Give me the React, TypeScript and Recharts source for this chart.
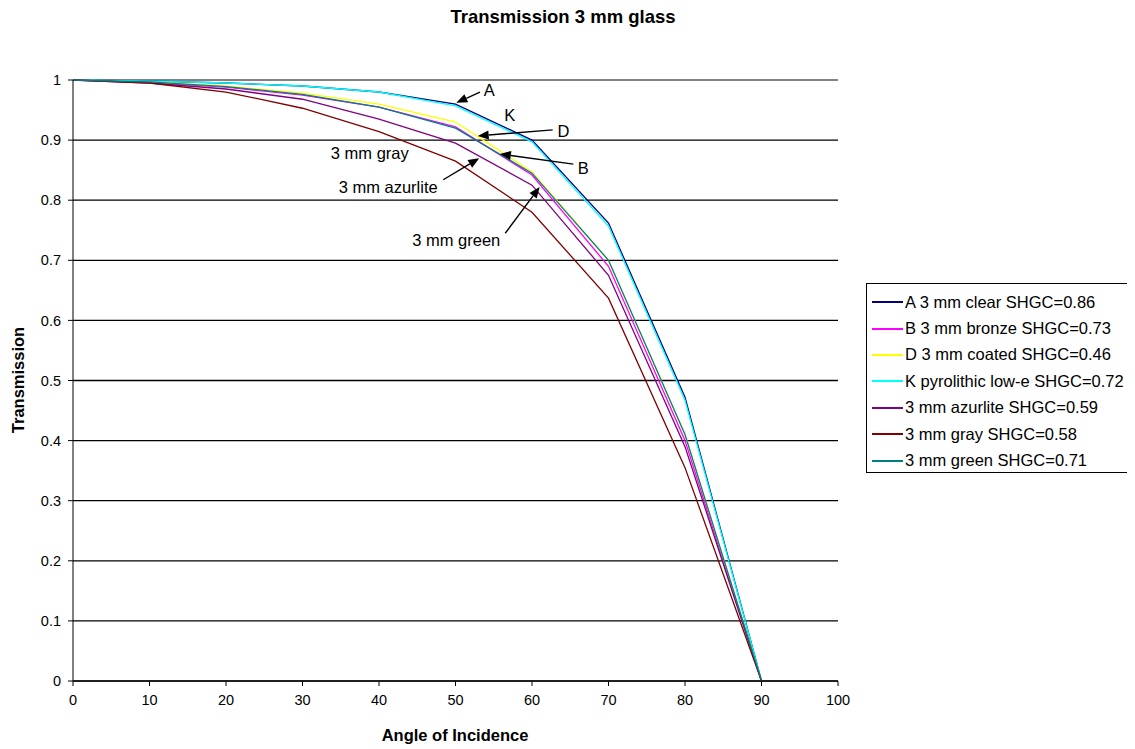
import React from 'react';
import {
  LineChart,
  Line,
  XAxis,
  YAxis,
  CartesianGrid,
  ReferenceLine,
  ReferenceDot,
} from 'recharts';

const angles = [0, 10, 20, 30, 40, 50, 60, 70, 80, 90];
const clearA = [1, 0.998, 0.995, 0.99, 0.98, 0.96, 0.9, 0.762, 0.472, 0];
const bronzeB = [1, 0.996, 0.988, 0.975, 0.955, 0.922, 0.842, 0.69, 0.4, 0];
const coatedD = [1, 0.997, 0.99, 0.978, 0.96, 0.93, 0.847, 0.7, 0.41, 0];
const lowEK = [1, 0.998, 0.995, 0.99, 0.98, 0.957, 0.897, 0.757, 0.467, 0];
const azurlite = [1, 0.995, 0.985, 0.968, 0.935, 0.895, 0.825, 0.675, 0.39, 0];
const gray = [1, 0.995, 0.98, 0.953, 0.914, 0.865, 0.78, 0.637, 0.355, 0];
const green = [1, 0.997, 0.989, 0.976, 0.955, 0.92, 0.845, 0.7, 0.41, 0];

const xTicks = [0, 10, 20, 30, 40, 50, 60, 70, 80, 90, 100];
const yTicks = [0, 0.1, 0.2, 0.3, 0.4, 0.5, 0.6, 0.7, 0.8, 0.9, 1];

const series = [
  { key: 'A', name: 'A 3 mm clear SHGC=0.86', color: '#000080', values: clearA },
  { key: 'B', name: 'B 3 mm bronze SHGC=0.73', color: '#ff00ff', values: bronzeB },
  { key: 'D', name: 'D 3 mm coated SHGC=0.46', color: '#ffff00', values: coatedD },
  { key: 'K', name: 'K pyrolithic low-e SHGC=0.72', color: '#00ffff', values: lowEK },
  { key: 'az', name: '3 mm azurlite SHGC=0.59', color: '#800080', values: azurlite },
  { key: 'gray', name: '3 mm gray SHGC=0.58', color: '#800000', values: gray },
  { key: 'green', name: '3 mm green SHGC=0.71', color: '#008080', values: green },
];

// annotation labels and arrows, in data units (angle, transmission)
const labels = [
  { text: 'A', x: 54.4, y: 0.983 },
  { text: 'K', x: 57.1, y: 0.942 },
  { text: 'D', x: 64.1, y: 0.915 },
  { text: 'B', x: 66.7, y: 0.854 },
  { text: '3 mm gray', x: 38.8, y: 0.879 },
  { text: '3 mm azurlite', x: 41.2, y: 0.822 },
  { text: '3 mm green', x: 50.1, y: 0.734 },
];

const arrows = [
  { from: [53.2, 0.98], to: [50.1, 0.962] },
  { from: [62.7, 0.917], to: [52.9, 0.907] },
  { from: [65.4, 0.86], to: [55.8, 0.877] },
  { from: [48.4, 0.834], to: [53.1, 0.87] },
  { from: [56.5, 0.745], to: [61.0, 0.822] },
];

const data = angles.map((a, i) => {
  const row: Record<string, number> = { angle: a };
  series.forEach(s => {
    row[s.key] = s.values[i];
  });
  return row;
});

const font = '"Liberation Sans", Arial, sans-serif';

const ArrowShape = (props: any) => {
  const { x1, y1, x2, y2 } = props;
  const ang = Math.atan2(y2 - y1, x2 - x1);
  const len = 11;
  const w = 4.5;
  const bx = x2 - len * Math.cos(ang);
  const by = y2 - len * Math.sin(ang);
  const px = -Math.sin(ang) * w;
  const py = Math.cos(ang) * w;
  return (
    <g>
      <line x1={x1} y1={y1} x2={bx} y2={by} stroke="#000" strokeWidth={1.4} />
      <polygon points={`${x2},${y2} ${bx + px},${by + py} ${bx - px},${by - py}`} fill="#000" />
    </g>
  );
};

const LegendBox = () => (
  <div
    style={{
      position: 'absolute',
      left: 858,
      top: 275,
      width: 262,
      height: 190,
      border: '1px solid #000',
      boxSizing: 'border-box',
      background: '#fff',
      paddingTop: 5,
      fontFamily: font,
      fontSize: 16.5,
    }}
  >
    {series.map(s => (
      <div key={s.key} style={{ display: 'flex', alignItems: 'center', height: 26.4 }}>
        <div style={{ width: 31, height: 2, background: s.color, marginLeft: 5, marginRight: 2 }} />
        <span style={{ color: '#000', whiteSpace: 'nowrap' }}>{s.name}</span>
      </div>
    ))}
  </div>
);

export default function App() {
  return (
    <div style={{ position: 'relative', width: 1127, height: 741, fontFamily: font }}>
      <div
        style={{
          position: 'absolute',
          left: 355,
          width: 400,
          top: -1,
          height: 20,
          lineHeight: '20px',
          textAlign: 'center',
          fontWeight: 'bold',
          fontSize: 18.5,
        }}
      >
        Transmission 3 mm glass
      </div>
      <div
        style={{
          position: 'absolute',
          left: 247,
          width: 400,
          top: 717,
          height: 20,
          lineHeight: '20px',
          textAlign: 'center',
          fontWeight: 'bold',
          fontSize: 16.5,
        }}
      >
        Angle of Incidence
      </div>
      <div
        style={{
          position: 'absolute',
          left: -90,
          width: 200,
          top: 362,
          height: 20,
          lineHeight: '20px',
          textAlign: 'center',
          fontWeight: 'bold',
          fontSize: 16.5,
          transform: 'rotate(-90deg)',
        }}
      >
        Transmission
      </div>
      <LineChart
        width={1127}
        height={741}
        data={data}
        margin={{ top: 72, right: 297, left: 30, bottom: 38 }}
      >
        <CartesianGrid vertical={false} stroke="#000" strokeWidth={1.3} />
        <XAxis
          dataKey="angle"
          type="number"
          domain={[0, 100]}
          ticks={xTicks}
          height={30}
          tickSize={5}
          tickMargin={9}
          stroke="#000"
          tick={{ fill: '#000', fontSize: 14.5, fontFamily: font }}
        />
        <YAxis
          type="number"
          domain={[0, 1]}
          ticks={yTicks}
          width={35}
          tickSize={5}
          tickMargin={7}
          stroke="#000"
          tickFormatter={(v: number) => String(Math.round(v * 10) / 10)}
          tick={{ fill: '#000', fontSize: 14.5, fontFamily: font }}
        />
        <ReferenceLine y={1} stroke="#999" strokeWidth={1.3} />
        {series.map(s => (
          <Line
            key={s.key}
            type="linear"
            dataKey={s.key}
            name={s.name}
            stroke={s.color}
            strokeWidth={1.3}
            dot={false}
            isAnimationActive={false}
          />
        ))}
        {arrows.map((a, i) => (
          <ReferenceLine
            key={'arr' + i}
            segment={[
              { x: a.from[0], y: a.from[1] },
              { x: a.to[0], y: a.to[1] },
            ]}
            shape={ArrowShape}
          />
        ))}
        {labels.map(l => (
          <ReferenceDot
            key={l.text}
            x={l.x}
            y={l.y}
            r={0}
            shape={(p: any) => (
              <text
                x={p.cx}
                y={p.cy}
                textAnchor="middle"
                dominantBaseline="central"
                fontSize={16.5}
                fontFamily={font}
                fill="#000"
              >
                {l.text}
              </text>
            )}
          />
        ))}
      </LineChart>
      <LegendBox />
    </div>
  );
}
